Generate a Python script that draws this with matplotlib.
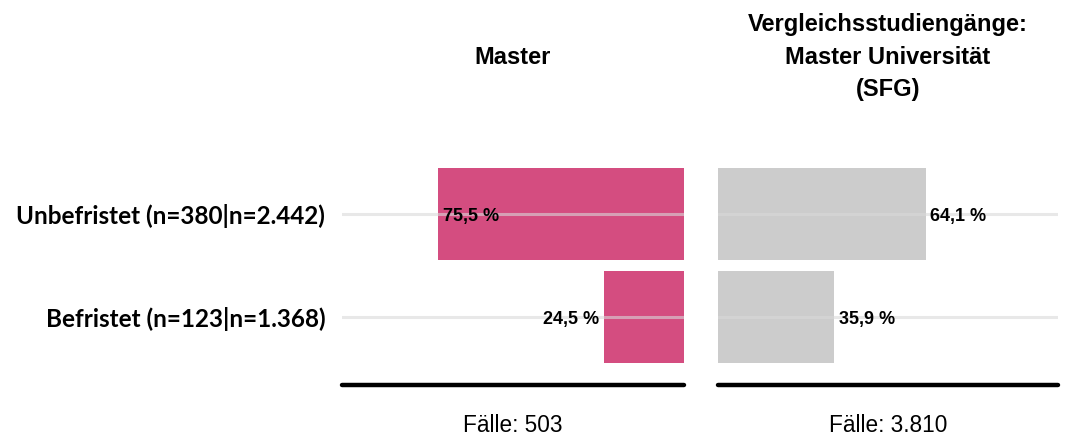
import matplotlib
matplotlib.use('Agg')
import matplotlib.pyplot as plt

# Data
categories = ['Unbefristet (n=380|n=2.442)', 'Befristet (n=123|n=1.368)']
master_values = [75.5, 24.5]
sfg_values = [64.1, 35.9]
titles = ['Master', 'Vergleichsstudiengänge:\nMaster Universität\n(SFG)']
cases = ['Fälle: 503', 'Fälle: 3.810']

PINK = '#d44d80'
GRAY = '#cccccc'
W, H = 1066, 441

fig = plt.figure(figsize=(W / 100, H / 100), dpi=100)


def px_axes(x0, x1, y0, y1):
    # pixel box -> figure fraction
    return fig.add_axes([x0 / W, 1 - y1 / H, (x1 - x0) / W, (y1 - y0) / H])


def fmt(v):
    return f'{v:.1f} %'.replace('.', ',')


ax_l = px_axes(342, 684, 162.5, 368.5)
ax_r = px_axes(718, 1058, 162.5, 368.5)

ypos = list(range(len(categories)))
lbl_kw = dict(va='center', fontsize=13, fontweight='bold', family='Liberation Sans', zorder=3)

for ax, vals, color, reverse in [(ax_l, master_values, PINK, True),
                                 (ax_r, sfg_values, GRAY, False)]:
    ax.barh(ypos, vals, height=0.89, color=color, zorder=1)
    for y in ypos:
        ax.axhline(y, color='#d9d9d9', lw=2.2, alpha=0.6, zorder=2)
    ax.set_xlim(0, 105)
    if reverse:
        ax.invert_xaxis()
    ax.set_ylim(1.5, -0.5)
    for y, v in zip(ypos, vals):
        if reverse:
            if v > 50:
                ax.text(v - 1.5, y + 0.02, fmt(v), ha='left', **lbl_kw)
            else:
                ax.text(v + 1.5, y + 0.02, fmt(v), ha='right', **lbl_kw)
        else:
            ax.text(v + 1.5, y + 0.02, fmt(v), ha='left', **lbl_kw)
    for s in ax.spines.values():
        s.set_visible(False)
    ax.set_xticks([])
    ax.set_yticks([])
    # thick baseline under the panel
    ax.plot([0, 1], [-0.08, -0.08], transform=ax.transAxes, color='black', lw=3.2,
            solid_capstyle='round', clip_on=False)

ax_l.set_yticks(ypos)
ax_l.set_yticklabels(categories, fontsize=17.5, fontweight='bold', family='Lato')
ax_l.tick_params(axis='y', length=0, pad=12)

# titles and case counts
for (x0, x1), title, case in zip([(342, 684), (718, 1058)], titles, cases):
    cx = (x0 + x1) / 2 / W
    fig.text(cx, 1 - 57 / H, title, ha='center', va='center', fontsize=17,
             fontweight='bold', family='Liberation Sans', linespacing=1.52)
    fig.text(cx, 1 - 425 / H, case, ha='center', va='center', fontsize=16.3,
             family='Liberation Sans')

fig.savefig('out.png', dpi=100)
